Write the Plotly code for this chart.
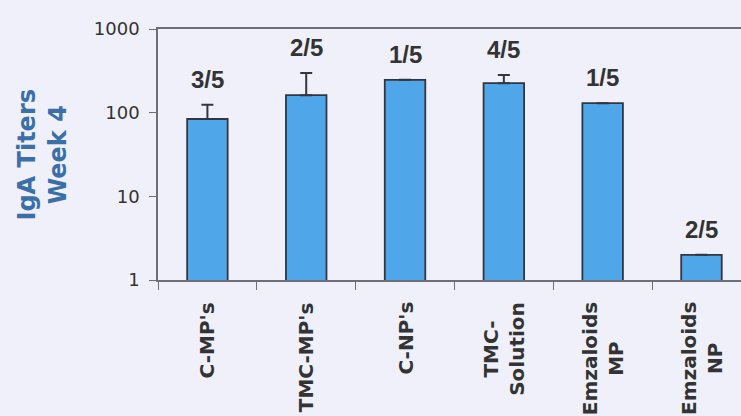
import numpy as np
import plotly.graph_objects as go

# Week-4 IgA titers per formulation
groups = ["C-MP's", "TMC-MP's", "C-NP's", "TMC-<br>Solution", "Emzaloids<br>MP", "Emzaloids<br>NP"]
titers = [84, 162, 247, 225, 130, 2]
errors_up = [40, 135, 0, 56, 0, 0]
responders = ["3/5", "2/5", "1/5", "4/5", "1/5", "2/5"]

BG = "#eff0fa"
BAR = "#4fa7ea"
EDGE = "#34363f"
TXT = "#333333"
AXIS = "#6e6e76"

# groups without a spread get no whisker at all
err_plot = [e if e > 0 else None for e in errors_up]

fig = go.Figure()
fig.add_trace(go.Bar(
    x=list(range(len(groups))), y=titers,
    marker=dict(color=BAR, line=dict(color=EDGE, width=1.8)),
    error_y=dict(type="data", symmetric=False, array=err_plot,
                 arrayminus=[None] * len(titers), color=EDGE, thickness=2, width=6,
                 visible=True),
    width=0.41,
))

# responder counts above each bar
for i, (v, e, r) in enumerate(zip(titers, errors_up, responders)):
    fig.add_annotation(
        x=i, y=np.log10(v + e), xref="x", yref="y", text=r, showarrow=False,
        yanchor="bottom", yshift=10,
        font=dict(family="Liberation Sans", size=24, color=TXT, weight="bold"),
    )

# rotated group names below the axis, lines centred on each other
for i, g in enumerate(groups):
    fig.add_annotation(
        x=i, y=0, xref="x", yref="paper", text=g, showarrow=False,
        textangle=-90, yanchor="top", xanchor="center", align="center",
        yshift=-20,
        font=dict(family="DejaVu Sans", size=20, color=TXT, weight="bold"),
    )

# y-axis title
fig.add_annotation(
    x=(42 - 158) / 583, y=0.5, xref="paper", yref="paper",
    text="IgA Titers<br>Week 4", textangle=-90, showarrow=False,
    xanchor="center", yanchor="middle",
    font=dict(family="DejaVu Sans", size=24, color="#3b6fa8", weight="bold"),
)

fig.update_layout(
    width=741, height=416,
    margin=dict(l=158, r=0, t=29, b=136),
    paper_bgcolor=BG, plot_bgcolor=BG,
    showlegend=False,
    xaxis=dict(
        range=[-0.5, 5.4],
        tickvals=[i - 0.5 for i in range(len(groups) + 1)],
        showticklabels=False,
        ticks="outside", ticklen=8, tickcolor=AXIS,
        showline=True, linecolor=AXIS, linewidth=1.5, mirror=True,
        showgrid=False, zeroline=False,
    ),
    yaxis=dict(
        type="log", range=[0, 3],
        tickvals=[1, 10, 100, 1000], ticktext=["1", "10", "100", "1000"],
        ticks="outside", ticklen=7, tickcolor=AXIS, ticklabelstandoff=6,
        showline=True, linecolor=AXIS, linewidth=1.5,
        tickfont=dict(family="DejaVu Sans", size=18, color=TXT),
        showgrid=False, zeroline=False,
    ),
)

fig.write_html("out.html")
